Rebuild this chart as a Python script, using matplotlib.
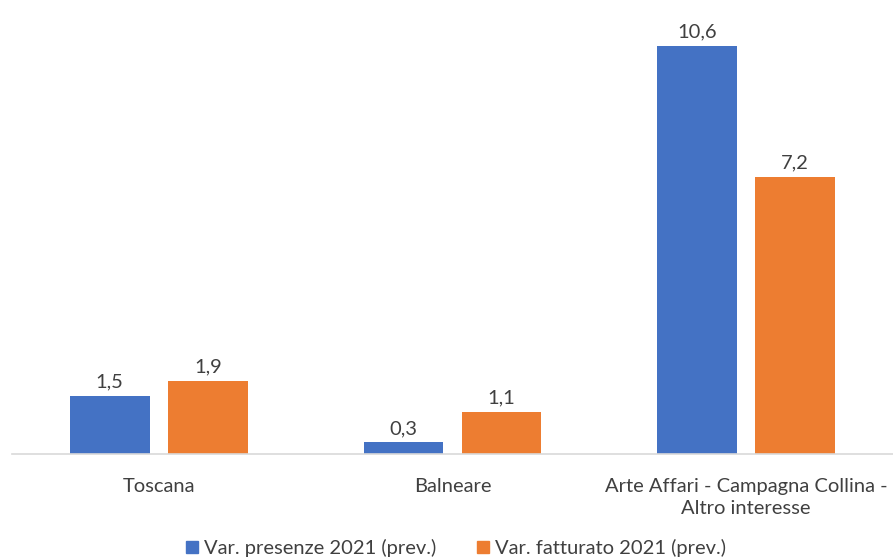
import matplotlib
matplotlib.use("Agg")
import matplotlib.pyplot as plt
import numpy as np
from matplotlib.patches import Patch

categories = ["Toscana", "Balneare", "Arte Affari - Campagna Collina -\nAltro interesse"]
series_names = ["Var. presenze 2021 (prev.)", "Var. fatturato 2021 (prev.)"]
presenze = [1.5, 0.3, 10.6]
fatturato = [1.9, 1.1, 7.2]

blue = "#4472C4"
orange = "#ED7D31"
text_color = "#404040"

plt.rcParams["font.family"] = ["Lato", "DejaVu Sans"]

fig = plt.figure(figsize=(8.93, 5.57), dpi=100)
ax = fig.add_axes([12 / 893, 103 / 557, 881 / 893, 454 / 557])

x = np.arange(len(categories))
width = 0.272
offset = 0.167

bars1 = ax.bar(x - offset, presenze, width, color=blue, label=series_names[0])
bars2 = ax.bar(x + offset, fatturato, width, color=orange, label=series_names[1])

for bars, vals in ((bars1, presenze), (bars2, fatturato)):
    for b, v in zip(bars, vals):
        ax.annotate(f"{v:.1f}".replace(".", ","),
                    (b.get_x() + b.get_width() / 2, v),
                    xytext=(0, 4), textcoords="offset points",
                    ha="center", va="bottom", fontsize=14.5, color=text_color)

ax.set_xlim(-0.5, 2.5)
ax.set_ylim(0, 11.8)
ax.set_xticks(x)
ax.set_xticklabels(categories, fontsize=14.5, color=text_color, linespacing=1.35)
ax.tick_params(axis="x", length=0, pad=17)
ax.set_yticks([])
for s in ("top", "right", "left"):
    ax.spines[s].set_visible(False)
ax.spines["bottom"].set_color("#D9D9D9")
ax.spines["bottom"].set_linewidth(1.2)

handles = [Patch(color=blue), Patch(color=orange)]
fig.legend(handles, series_names, loc="center", bbox_to_anchor=(456 / 893, 1 - 548 / 557),
           ncol=2, frameon=False, fontsize=14.5, labelcolor=text_color,
           handlelength=0.6, handleheight=0.6, handletextpad=0.3, columnspacing=2.0)

fig.savefig("out.png", dpi=100)
